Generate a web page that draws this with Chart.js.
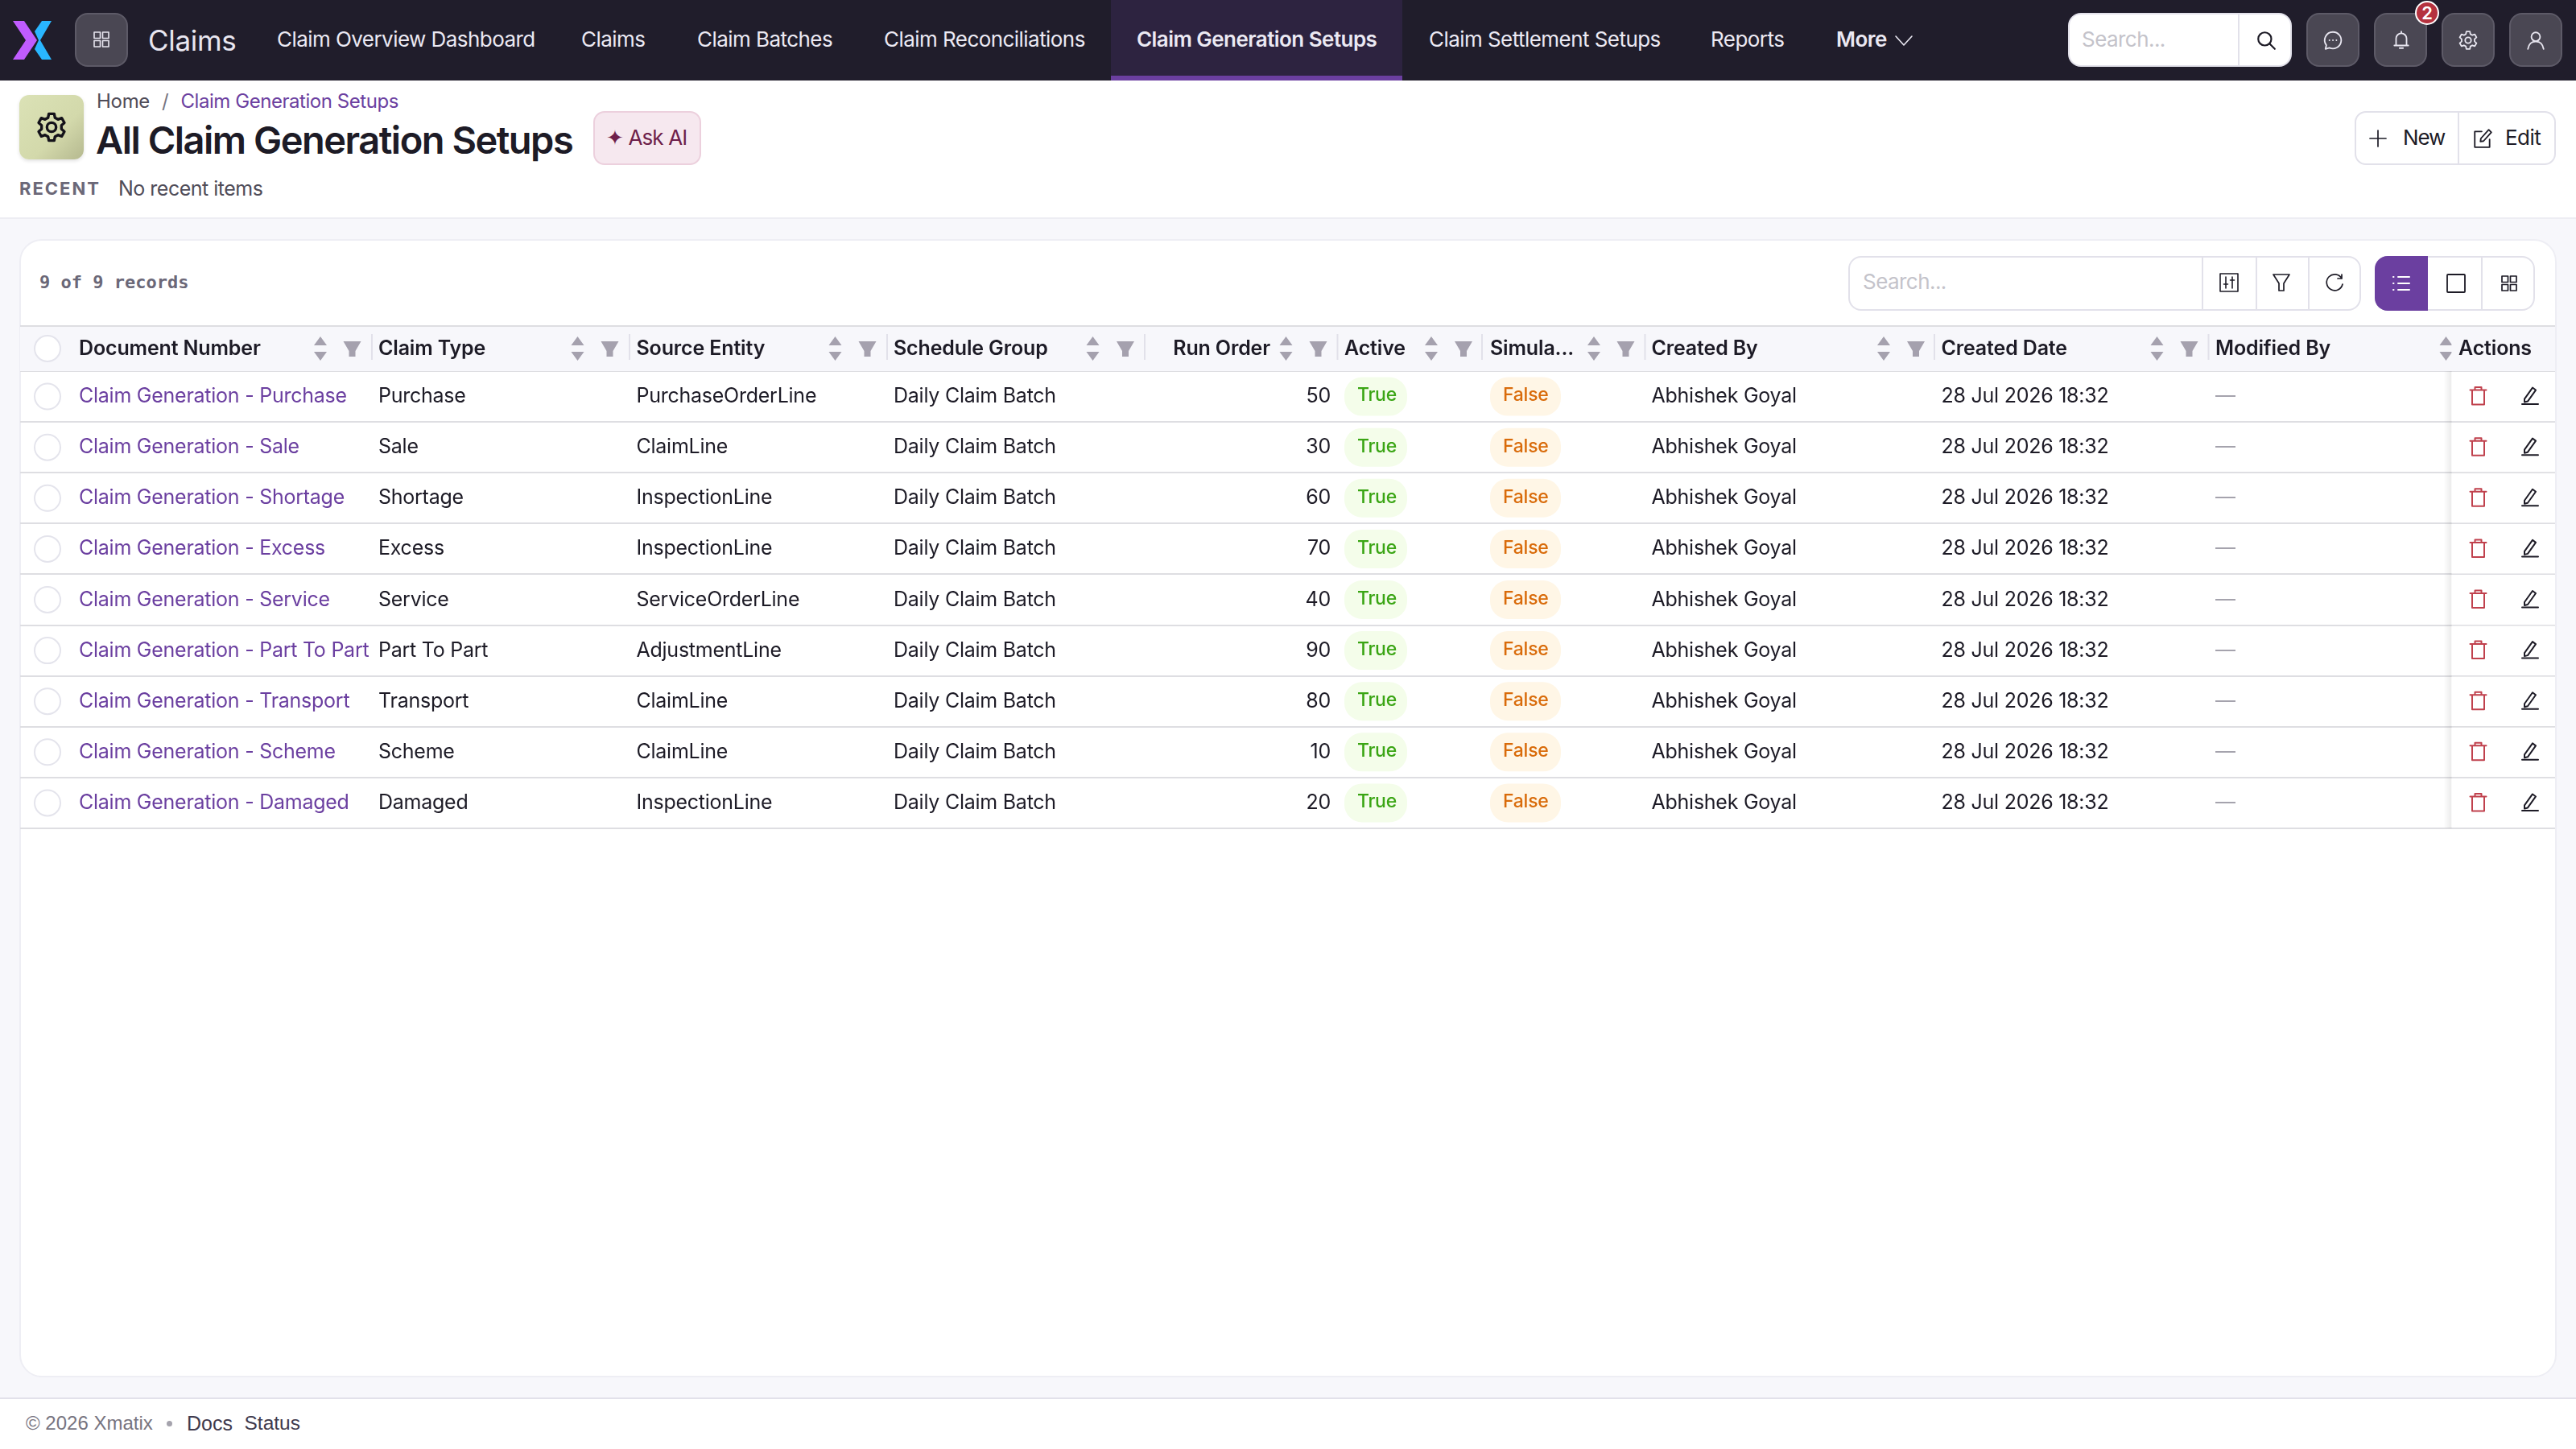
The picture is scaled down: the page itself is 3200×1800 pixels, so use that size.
<!DOCTYPE html>
<html>
<head>
<meta charset="utf-8">
<title>All Claim Generation Setups</title>
<script src="https://cdn.jsdelivr.net/npm/chart.js@4"></script>
<style>
  html, body { margin: 0; padding: 0; background: #fff; }
  body { width: 3200px; height: 1800px; position: relative; overflow: hidden; font-family: Inter, "Liberation Sans", sans-serif; letter-spacing: -0.55px; color: #1d1b26; }
  .abs { position: absolute; white-space: nowrap; }
  .t { position: absolute; white-space: nowrap; transform: translateY(-50%); line-height: 1; }
  .plain { font-family: "Liberation Sans", sans-serif; letter-spacing: 0; }
  .mono { font-family: "DejaVu Sans Mono", monospace; letter-spacing: 0; font-weight: 700; }
  svg { position: absolute; overflow: visible; fill: none; stroke-linecap: round; stroke-linejoin: round; }
  #tableChart { position: absolute; left: 25px; top: 404px; z-index: 5; }
</style>
</head>
<body>
<canvas id="tableChart" width="3149" height="626"></canvas>
<script>
// Datos de la tabla
const columnTitles = ["Document Number", "Claim Type", "Source Entity", "Schedule Group", "Run Order", "Active", "Simula...", "Created By", "Created Date", "Modified By"];
const documentNumbers = ["Claim Generation - Purchase", "Claim Generation - Sale", "Claim Generation - Shortage", "Claim Generation - Excess", "Claim Generation - Service", "Claim Generation - Part To Part", "Claim Generation - Transport", "Claim Generation - Scheme", "Claim Generation - Damaged"];
const claimTypes = ["Purchase", "Sale", "Shortage", "Excess", "Service", "Part To Part", "Transport", "Scheme", "Damaged"];
const sourceEntities = ["PurchaseOrderLine", "ClaimLine", "InspectionLine", "InspectionLine", "ServiceOrderLine", "AdjustmentLine", "ClaimLine", "ClaimLine", "InspectionLine"];
const scheduleGroups = ["Daily Claim Batch", "Daily Claim Batch", "Daily Claim Batch", "Daily Claim Batch", "Daily Claim Batch", "Daily Claim Batch", "Daily Claim Batch", "Daily Claim Batch", "Daily Claim Batch"];
const runOrders = [50, 30, 60, 70, 40, 90, 80, 10, 20];
const activeFlags = ["True", "True", "True", "True", "True", "True", "True", "True", "True"];
const simulatedFlags = ["False", "False", "False", "False", "False", "False", "False", "False", "False"];
const createdBy = ["Abhishek Goyal", "Abhishek Goyal", "Abhishek Goyal", "Abhishek Goyal", "Abhishek Goyal", "Abhishek Goyal", "Abhishek Goyal", "Abhishek Goyal", "Abhishek Goyal"];
const createdDates = ["28 Jul 2026 18:32", "28 Jul 2026 18:32", "28 Jul 2026 18:32", "28 Jul 2026 18:32", "28 Jul 2026 18:32", "28 Jul 2026 18:32", "28 Jul 2026 18:32", "28 Jul 2026 18:32", "28 Jul 2026 18:32"];
const modifiedBy = ["—", "—", "—", "—", "—", "—", "—", "—", "—"];

// Textos de la barra superior
const navLabels = ["Claim Overview Dashboard", "Claims", "Claim Batches", "Claim Reconciliations", "Claim Generation Setups", "Claim Settlement Setups", "Reports", "More"];

// Posiciones de columnas (escala x en px de pagina)
const columnLeft = [98, 470, 790.5, 1110, 1653, 1670, 1851, 2051.5, 2411.5, 2752];
const columnSort = [398, 717.5, 1037.5, 1357.5, 1597.5, 1778, 1980, 2340, 2679.5, 3038.5];
const columnFilter = [437.5, 757.5, 1077.5, 1398, 1637.5, 1818, 2019.5, 2380, 2719.5, null];
const columnDivider = [461, 781, 1101, 1421, 1660.5, 1840, 2042.5, 2402, 2742.5];
const navLeft = [344, 722, 866, 1098, 1412, 1775, 2125, 2281];

const FONT = 'Inter, "Liberation Sans", sans-serif';
const PURPLE = "#6b3fa0";

// Barra superior, cabecera y pie se hacen con html
const add = (html) => document.body.insertAdjacentHTML("beforeend", html);
const text = (x, y, size, color, str, extra = "", cls = "") =>
  add(`<div class="t ${cls}" style="left:${x}px;top:${y}px;font-size:${size}px;color:${color};${extra}">${str}</div>`);
const box = (x, y, w, h, style) =>
  add(`<div class="abs" style="left:${x}px;top:${y}px;width:${w}px;height:${h}px;box-sizing:border-box;${style}"></div>`);
const icon = (x, y, w, h, stroke, width, body) =>
  add(`<svg style="left:${x}px;top:${y}px" width="${w}" height="${h}" viewBox="0 0 24 24" stroke="${stroke}" stroke-width="${width}">${body}</svg>`);

const gridIcon = '<rect x="3" y="3" width="7.5" height="7.5"/><rect x="13.5" y="3" width="7.5" height="7.5"/><rect x="3" y="13.5" width="7.5" height="7.5"/><rect x="13.5" y="13.5" width="7.5" height="7.5"/>';
const gearIcon = '<circle cx="12" cy="12" r="3.4"/><path d="M10 2h4l.6 3 2.2 1.2 2.8-1 2 3.5-2.2 2v2.6l2.2 2-2 3.5-2.8-1-2.2 1.2-.6 3h-4l-.6-3-2.2-1.2-2.8 1-2-3.5 2.2-2v-2.6l-2.2-2 2-3.5 2.8 1L9.400 5z"/>';

// fondo de zonas
box(0, 0, 3200, 100, "background:#201d2b");
box(1380, 0, 362, 100, `background:#2d2340;border-bottom:6px solid ${PURPLE}`);
box(0, 270, 3200, 1468, "background:#f7f7fb;border-top:2px solid #ededf3;border-bottom:2px solid #e2e1ea");
box(24, 297, 3152, 1414, "background:#fff;border:2px solid #eeeef4;border-radius:28px");

// logo
add(`<svg style="left:0;top:0" width="80" height="100"><path fill="#c05cff" d="M16 26h14l16 24-16 24H16l16-24z"/><path fill="#29b6ff" d="M52 26h12L50 50l14 24H52l-9-13 5-11-5-11z"/></svg>`);
box(93, 16, 66, 67, "background:#4a4753;border:2px solid #5d5a67;border-radius:16px");
icon(114, 37, 24, 24, "#e8e6f0", 1.6, gridIcon);
text(184, 50, 35, "#e8e6f0", "Claims", "letter-spacing:-0.3px");

navLabels.forEach((label, i) => {
  const active = label === "Claim Generation Setups";
  text(navLeft[i], 49, 26, "#ebe9f3", label, active || label === "More" ? "font-weight:600" : "");
});
icon(2353, 38, 24, 24, "#ebe9f3", 1.6, '<path d="M2 7l10 11L22 7"/>');

// buscador de arriba y botones
box(2569, 16, 278, 67, "background:#fff;border:2px solid #e2e1ea;border-radius:16px");
box(2780, 18, 2, 63, "background:#e2e1ea");
text(2586, 49, 26, "#c4c3ca", "Search...");
icon(2802, 37, 26, 26, "#1d1b26", 2, '<circle cx="10.500" cy="10.500" r="7.500"/><path d="M16 16l6 6"/>');
[2865, 2949, 3033, 3117].forEach((x) => box(x, 16, 66, 67, "background:#4a4753;border:2px solid #5d5a67;border-radius:16px"));
icon(2885, 37, 26, 26, "#e8e6f0", 1.7, '<path d="M12 2.500a9.500 9.500 0 1 1-4 18.100L3.500 22l1-4.300A9.500 9.500 0 0 1 12 2.500z"/><path d="M8 12h.1M12 12h.1M16 12h.1"/>');
icon(2970, 37, 26, 26, "#e8e6f0", 1.7, '<path d="M6 18V10a6 6 0 0 1 12 0v8M4 18h16M10 21h4M12 2v2"/>');
icon(3053, 37, 26, 26, "#e8e6f0", 1.7, gearIcon);
icon(3137, 37, 26, 26, "#e8e6f0", 1.7, '<circle cx="12" cy="8" r="5"/><path d="M3 22c1-6 4.500-8.500 9-8.500s8 2.500 9 8.500"/>');
add(`<div class="abs" style="left:3000px;top:1px;width:30px;height:30px;box-sizing:border-box;border:2px solid #fff;border-radius:50%;background:#b5323f;color:#fff;font-size:22px;font-weight:600;line-height:26px;text-align:center;letter-spacing:0">2</div>`);

// cabecera de pagina
box(24, 118, 80, 80, "background:linear-gradient(135deg,#dbe2b6,#d3d9ab 60%,#b5b98f);border-radius:12px;box-shadow:0 2px 4px rgba(0,0,0,.12)");
icon(44, 138, 40, 40, "#14121a", 2, gearIcon);
text(120, 126, 24, "#4f4c58", "Home", "letter-spacing:-0.3px");
text(201, 126, 24, "#77747f", "/");
text(224.5, 126, 24, PURPLE, "Claim Generation Setups", "letter-spacing:-0.45px");
text(119, 173, 47, "#1d1b26", "All Claim Generation Setups", "font-weight:600;letter-spacing:-1.5px");
box(737, 138, 134, 67, "background:#f6e8ef;border:2px solid #ecd0dd;border-radius:14px");
text(753, 171, 26, "#6e1f4b", "✦ Ask AI", "letter-spacing:-0.9px");
text(24, 234, 22, "#6b6878", "RECENT", "font-weight:700;letter-spacing:2px");
text(147, 234, 25, "#4f4c58", "No recent items", "letter-spacing:-0.5px");

box(2925, 138, 250, 67, "background:#fff;border:2px solid #e2e1ea;border-radius:14px");
box(3053, 140, 2, 63, "background:#e2e1ea");
icon(2942, 160, 24, 24, "#1d1b26", 1.7, '<path d="M12 2v20M2 12h20"/>');
text(2985, 171, 26, "#1d1b26", "New", "letter-spacing:-1.2px");
icon(3071, 159, 26, 26, "#1d1b26", 1.7, '<path d="M11 4H3v18h17v-9M19 2l3 3-9 10-3.500.5.500-3.500z"/>');
text(3112, 171, 26, "#1d1b26", "Edit");

// barra de herramientas
text(49, 350.5, 22, "#6b6878", "9 of 9 records", "", "mono");
box(2296, 318, 637, 68, "background:#fff;border:2px solid #e2e1ea;border-radius:16px");
[2735, 2801.5, 2867].forEach((x) => box(x, 320, 2, 64, "background:#e2e1ea"));
text(2314, 350, 26, "#c4c3ca", "Search...");
icon(2757, 339, 24, 24, "#1d1b26", 1.6, '<rect x="1" y="1" width="22" height="22"/><path d="M8 5v14M16 5v14M5.500 14h5M13.500 9h5"/>');
icon(2822, 339, 24, 24, "#1d1b26", 1.7, '<path d="M2 2h20l-7 11v9H9v-9z"/>');
icon(2888, 339, 24, 24, "#1d1b26", 1.7, '<path d="M21 7A10 10 0 1 0 22 14M21 2v5h-5"/>');
box(2950, 318, 199, 68, "background:#fff;border:2px solid #e2e1ea;border-radius:16px");
box(2950, 318, 66, 68, `background:${PURPLE};border-radius:16px 0 0 16px`);
box(3082, 320, 2, 64, "background:#e2e1ea");
icon(2971, 340, 24, 24, "#fff", 2, '<path d="M8 4h14M8 12h14M8 20h14M2 4h.5M2 12h.5M2 20h.5"/>');
icon(3039, 340, 24, 24, "#1d1b26", 1.8, '<rect x="1" y="1" width="22" height="22" rx="1"/>');
icon(3105, 340, 24, 24, "#1d1b26", 1.7, gridIcon);

// pie
box(0, 1738, 3200, 62, "background:#fff");
text(32, 1768, 24, "#77747f", "© 2026 Xmatix", "", "plain");
box(207, 1765, 7, 7, "background:#a5a3ad;border-radius:50%");
text(232, 1768, 25, "#3f3a4d", "Docs", "", "plain");
text(303.5, 1768, 24.500, "#3f3a4d", "Status", "", "plain");

// Una fila de celdas por columna: cada punto sale de las escalas del grafico
const cellColumn = (values, colIndex) => ({
  label: columnTitles[colIndex],
  data: values.map((v, i) => ({ x: columnLeft[colIndex], y: documentNumbers[i], text: String(v) })),
  pointRadius: 0,
  showLine: false
});

const drawSort = (ctx, x, y, color) => {
  ctx.fillStyle = color;
  ctx.beginPath();
  ctx.moveTo(x - 8, y - 4); ctx.lineTo(x + 8, y - 4); ctx.lineTo(x, y - 15); ctx.closePath();
  ctx.moveTo(x - 8, y + 4); ctx.lineTo(x + 8, y + 4); ctx.lineTo(x, y + 15); ctx.closePath();
  ctx.fill();
};
const drawFilter = (ctx, x, y, color) => {
  ctx.fillStyle = color;
  ctx.beginPath();
  ctx.moveTo(x - 11, y - 9); ctx.lineTo(x + 11, y - 9); ctx.lineTo(x + 4, y + 3); ctx.lineTo(x + 4, y + 10);
  ctx.lineTo(x - 4, y + 10); ctx.lineTo(x - 4, y + 3); ctx.closePath();
  ctx.fill();
};
const drawCircle = (ctx, x, y) => {
  ctx.strokeStyle = "#e4e4ec";
  ctx.lineWidth = 2;
  ctx.fillStyle = "#fff";
  ctx.beginPath();
  ctx.arc(x, y, 16, 0, Math.PI * 2);
  ctx.fill();
  ctx.stroke();
};
const drawIconPath = (ctx, x, y, scale, color, width, d) => {
  ctx.save();
  ctx.translate(x - 12 * scale, y - 12 * scale);
  ctx.scale(scale, scale);
  ctx.strokeStyle = color;
  ctx.lineWidth = width / scale;
  ctx.lineCap = "round";
  ctx.lineJoin = "round";
  ctx.stroke(new Path2D(d));
  ctx.restore();
};

const tablePlugin = {
  id: "tablePlugin",
  beforeDatasetsDraw(chart) {
    const { ctx, chartArea, scales } = chart;
    const headerTop = 1;
    const headerY = 29;
    ctx.save();
    // cabecera
    ctx.fillStyle = "#f7f7fb";
    ctx.fillRect(chartArea.left, headerTop, chartArea.width, chartArea.top - headerTop);
    ctx.fillStyle = "#dedee2";
    ctx.fillRect(chartArea.left, 0, chartArea.width, 2);
    ctx.textBaseline = "middle";
    columnTitles.forEach((title, i) => {
      const rightAlign = title === "Run Order";
      ctx.font = `600 25px ${FONT}`;
      ctx.letterSpacing = "-0.15px";
      ctx.fillStyle = "#1d1b26";
      ctx.textAlign = rightAlign ? "right" : "left";
      const x = rightAlign ? scales.x.getPixelForValue(1578) : scales.x.getPixelForValue(columnLeft[i]);
      ctx.fillText(title, x, headerY);
      drawSort(ctx, scales.x.getPixelForValue(columnSort[i]), headerY, "#a5a1ae");
      if (columnFilter[i]) drawFilter(ctx, scales.x.getPixelForValue(columnFilter[i]), headerY, "#a5a1ae");
      if (columnDivider[i]) {
        ctx.fillStyle = "#e2e1ea";
        ctx.fillRect(scales.x.getPixelForValue(columnDivider[i]), 11, 2, 32);
      }
    });
    drawCircle(ctx, scales.x.getPixelForValue(59), headerY);
    documentNumbers.forEach((doc) => drawCircle(ctx, scales.x.getPixelForValue(59), scales.y.getPixelForValue(doc)));

    // celdas
    ctx.letterSpacing = "-0.25px";
    chart.data.datasets.forEach((dataset, d) => {
      const meta = chart.getDatasetMeta(d);
      meta.data.forEach((point, i) => {
        const value = dataset.data[i].text;
        const y = point.y;
        ctx.font = `400 25px ${FONT}`;
        ctx.textAlign = "left";
        ctx.fillStyle = "#1d1b26";
        if (dataset.label === "Document Number") ctx.fillStyle = PURPLE;
        if (dataset.label === "Run Order") ctx.textAlign = "right";
        if (dataset.label === "Modified By") ctx.fillStyle = "#a5a3ad";
        if (dataset.label === "Active" || dataset.label === "Simula...") {
          const isTrue = value === "True";
          ctx.fillStyle = isTrue ? "#f4fdea" : "#fff6e6";
          ctx.beginPath();
          ctx.roundRect(point.x, y - 24, isTrue ? 78 : 88, 48, 22);
          ctx.fill();
          ctx.font = `500 23px ${FONT}`;
          ctx.fillStyle = isTrue ? "#3aa514" : "#d96b0a";
          ctx.fillText(value, point.x + 16, y - 1);
          return;
        }
        ctx.fillText(value, point.x, y);
      });
    });
    ctx.restore();
  },
  afterDatasetsDraw(chart) {
    const { ctx, chartArea, scales } = chart;
    const x0 = scales.x.getPixelForValue(3045.5);
    const right = chartArea.right;
    ctx.save();
    // columna fija de acciones
    const shadow = ctx.createLinearGradient(x0 - 10, 0, x0, 0);
    shadow.addColorStop(0, "rgba(0,0,0,0)");
    shadow.addColorStop(1, "rgba(0,0,0,0.08)");
    ctx.fillStyle = shadow;
    ctx.fillRect(x0 - 10, chartArea.top, 10, chartArea.height);
    ctx.fillStyle = "#fff";
    const rowHeight = chartArea.height / documentNumbers.length;
    documentNumbers.forEach((doc) => {
      ctx.fillRect(x0, scales.y.getPixelForValue(doc) - rowHeight / 2 + 1, right - x0, rowHeight - 2);
    });
    ctx.fillStyle = "#f7f7fb";
    ctx.fillRect(x0, 2, right - x0, chartArea.top - 3);
    ctx.font = `600 25px ${FONT}`;
    ctx.letterSpacing = "-0.15px";
    ctx.textBaseline = "middle";
    ctx.fillStyle = "#1d1b26";
    ctx.textAlign = "left";
    ctx.fillText("Actions", scales.x.getPixelForValue(3054), 29);
    documentNumbers.forEach((doc) => {
      const y = scales.y.getPixelForValue(doc) - 1;
      drawIconPath(ctx, scales.x.getPixelForValue(3078.5), y, 1, "#c0414d", 2, "M2 5h20M8 5V1.500h8V5M4.500 5v18h15V5");
      drawIconPath(ctx, scales.x.getPixelForValue(3143), y, 1, "#1d1b26", 2, "M5 16L15 2l4 3-10 14-4 1zM2 22.500h20");
    });
    ctx.restore();
  }
};

new Chart(document.getElementById("tableChart"), {
  type: "scatter",
  data: {
    datasets: [
      cellColumn(documentNumbers, 0),
      cellColumn(claimTypes, 1),
      cellColumn(sourceEntities, 2),
      cellColumn(scheduleGroups, 3),
      cellColumn(runOrders, 4),
      cellColumn(activeFlags, 5),
      cellColumn(simulatedFlags, 6),
      cellColumn(createdBy, 7),
      cellColumn(createdDates, 8),
      cellColumn(modifiedBy, 9)
    ]
  },
  options: {
    responsive: false,
    animation: false,
    devicePixelRatio: 1,
    layout: { padding: { top: 57, bottom: 1, left: 0, right: 0 } },
    plugins: { legend: { display: false }, tooltip: { enabled: false } },
    scales: {
      x: { type: "linear", display: false, min: 25, max: 3174 },
      y: {
        type: "category",
        labels: documentNumbers,
        offset: true,
        afterFit: (scale) => { scale.width = 0; },
        ticks: { display: false },
        border: { display: false },
        grid: { color: "#dedee2", lineWidth: 2, offset: true, drawTicks: false }
      }
    }
  },
  plugins: [tablePlugin]
});
</script>
</body>
</html>
